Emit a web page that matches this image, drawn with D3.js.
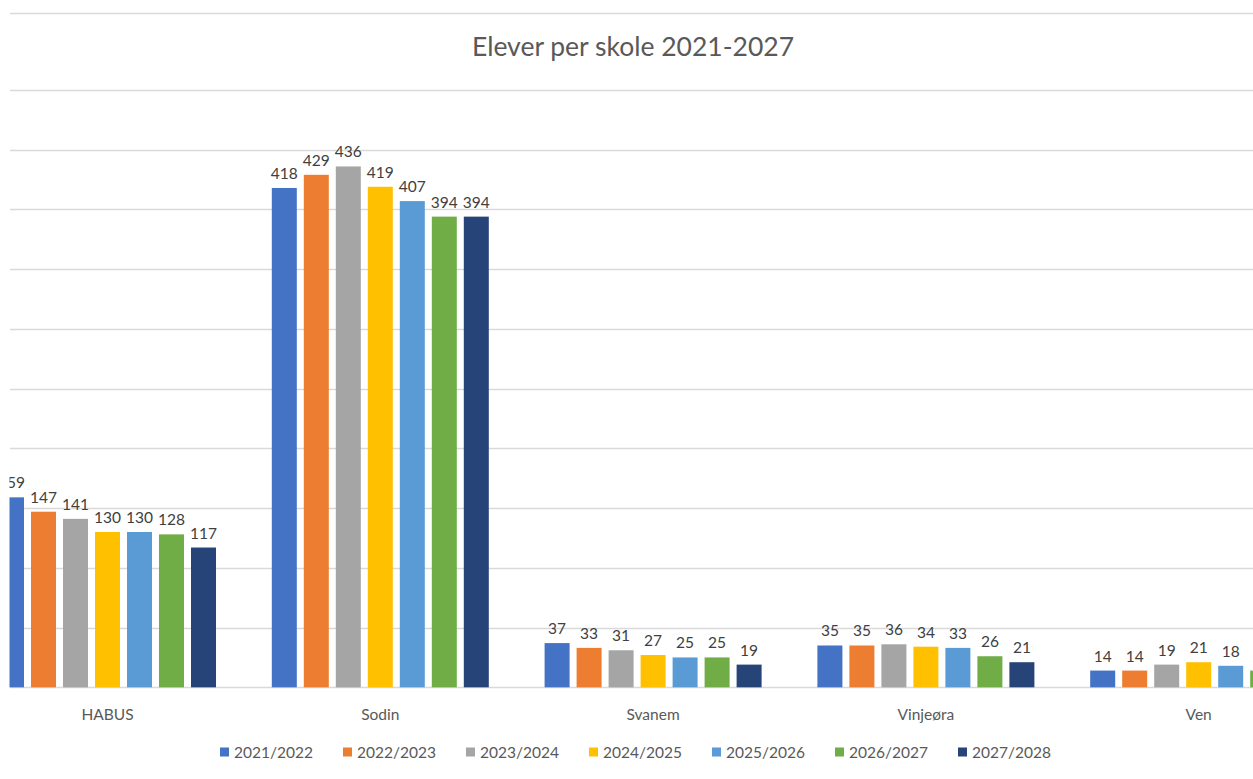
<!DOCTYPE html>
<html><head><meta charset="utf-8">
<script src="https://cdn.jsdelivr.net/npm/d3@7"></script>
<style>body{margin:0;background:#fff;}svg{display:block;}</style>
</head><body>
<svg id="c" width="1253" height="779"></svg>
<script>
const categories = ["HABUS","Sodin","Svanem","Vinjeøra","Ven"];
const seriesNames = ["2021/2022","2022/2023","2023/2024","2024/2025","2025/2026","2026/2027","2027/2028"];
const s2021 = [159,418,37,35,14];
const s2022 = [147,429,33,35,14];
const s2023 = [141,436,31,36,19];
const s2024 = [130,419,27,34,21];
const s2025 = [130,407,25,33,18];
const s2026 = [128,394,25,26,14];
const s2027 = [117,394,19,21,13];
const seriesValues = [s2021,s2022,s2023,s2024,s2025,s2026,s2027];
const colors = ["#4472C4","#ED7D31","#A5A5A5","#FFC000","#5B9BD5","#70AD47","#264478"];
const yTicks = [0,50,100,150,200,250,300,350,400,450,500];
const title = "Elever per skole 2021-2027";

const svg = d3.select("#c");
const font = "Lato, 'Open Sans', sans-serif";
const clipL = 9.5, clipR = 1253;

const defs = svg.append("defs");
defs.append("clipPath").attr("id","clip")
  .append("rect").attr("x",clipL).attr("y",0).attr("width",clipR-clipL).attr("height",779);
defs.append("clipPath").attr("id","clipT")
  .append("rect").attr("x",0).attr("y",0).attr("width",1250).attr("height",779);

// top border line
svg.append("line").attr("x1",10).attr("x2",1253).attr("y1",13.5).attr("y2",13.5)
  .attr("stroke","#D9D9D9").attr("stroke-width",1.3);

const y = d3.scaleLinear().domain([0,500]).range([687.3,90]);
const step = 272.8, c0 = 107.5;
const x0 = d3.scaleBand().domain(categories).range([c0-step/2, c0-step/2+step*categories.length]).padding(0);
const x1 = d3.scaleBand().domain(seriesNames).range([0,224]).paddingInner(7/32).paddingOuter(7/64);

const g = svg.append("g").attr("clip-path","url(#clip)");

// gridlines
g.selectAll("line.grid").data(yTicks).join("line")
  .attr("x1",10).attr("x2",1253)
  .attr("y1",d=>Math.round(y(d))+0.5).attr("y2",d=>Math.round(y(d))+0.5)
  .attr("stroke","#D9D9D9").attr("stroke-width",1.3);

const flat = [];
categories.forEach((c,ci)=>seriesNames.forEach((s,si)=>flat.push({c,s,si,v:seriesValues[si][ci]})));
const off = (x0.bandwidth()-224)/2;

g.selectAll("rect.bar").data(flat).join("rect")
  .attr("x",d=>x0(d.c)+off+x1(d.s))
  .attr("width",x1.bandwidth())
  .attr("y",d=>y(d.v))
  .attr("height",d=>y(0)-y(d.v))
  .attr("fill",d=>colors[d.si]);

const gl = g.append("g").attr("clip-path","url(#clipT)");
gl.selectAll("text.lab").data(flat).join("text")
  .attr("x",d=>x0(d.c)+off+x1(d.s)+x1.bandwidth()/2)
  .attr("y",d=>y(d.v)-9)
  .attr("text-anchor","middle")
  .attr("font-family",font).attr("font-size",15.5).attr("fill","#404040")
  .text(d=>d.v);

// category labels
g.selectAll("text.cat").data(categories).join("text")
  .attr("x",d=>x0(d)+x0.bandwidth()/2)
  .attr("y",720)
  .attr("text-anchor","middle")
  .attr("font-family",font).attr("font-size",15.5).attr("fill","#595959")
  .text(d=>d);

// title
svg.append("text").attr("x",633).attr("y",56).attr("text-anchor","middle")
  .attr("font-family",font).attr("font-size",26.5).attr("fill","#595959").text(title);

// legend
const legX = d3.scalePoint().domain(seriesNames).range([220,958]);
const lg = svg.selectAll("g.leg").data(seriesNames).join("g")
  .attr("transform",d=>`translate(${legX(d)},752)`);
lg.append("rect").attr("x",0).attr("y",-4.5).attr("width",9).attr("height",9)
  .attr("fill",(d,i)=>colors[i]);
lg.append("text").attr("x",14).attr("y",5.5)
  .attr("font-family",font).attr("font-size",15.5).attr("fill","#595959").text(d=>d);
</script>
</body></html>
